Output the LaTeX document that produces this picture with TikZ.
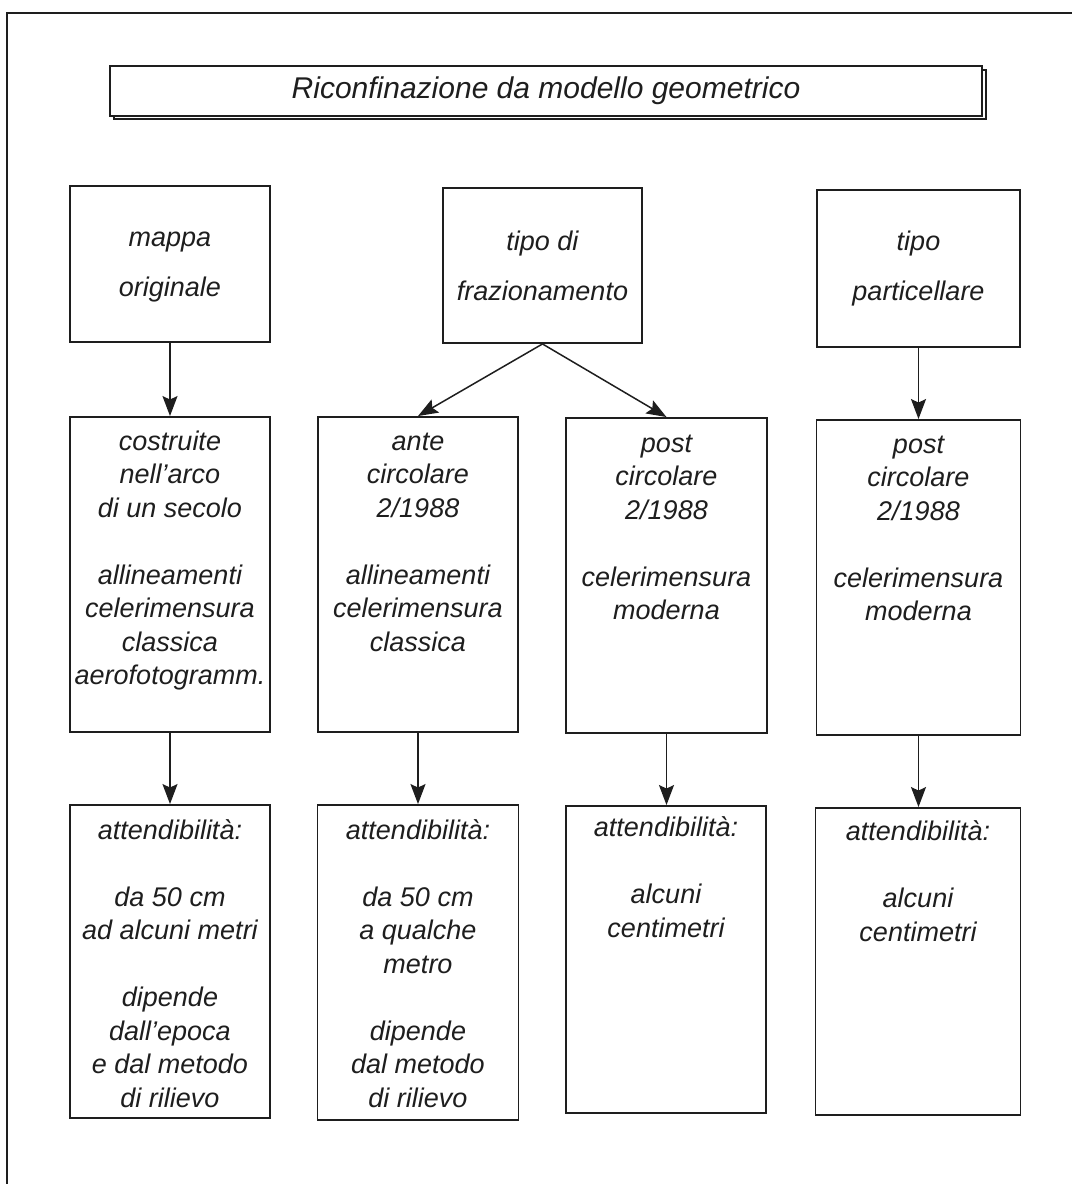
\documentclass[tikz,border=0pt]{standalone}
\usepackage{fontspec}
\setmainfont{Liberation Sans}
\usetikzlibrary{arrows.meta}
\definecolor{ink}{HTML}{1E1E1E}
\tikzset{
  x=1pt, y=-1pt,
  frameline/.style={draw=ink, line width=1.6pt},
  box/.style={draw=ink, line width=1.9pt, fill=white, inner sep=0pt},
  bodytext/.style={inner sep=0pt, align=center, text=ink,
    font=\itshape\fontsize{27}{33.5}\selectfont},
  headtext/.style={inner sep=0pt, align=center, text=ink,
    font=\itshape\fontsize{27}{50}\selectfont},
  link/.style={draw=ink, line width=1.5pt,
    -{Stealth[length=20pt, width=15pt, inset=3.5pt]}},
}
\begin{document}
\begin{tikzpicture}
\useasboundingbox (0,0) rectangle (1072,1184);

% page frame (top and left rules)
\draw[frameline] (7,1184) -- (7,13) -- (1072,13);

% title with offset outline
\draw[draw=ink, line width=1.5pt] (114,70) rectangle (986,119);
\node[box, line width=1.6pt, minimum width=872pt, minimum height=50pt] (title) at (546,91) {};
\node[inner sep=0pt, text=ink, font=\itshape\fontsize{30}{36}\selectfont] (titletext) at (title.center) {Riconfinazione da modello geometrico};

% first row
\node[box, minimum width=200pt, minimum height=156pt] (a1) at (170,264) {};
\node[headtext] (a1t) at ([yshift=-3pt]a1.center) {mappa\\originale};
\node[box, minimum width=199pt, minimum height=155pt] (a2) at (542.5,265.5) {};
\node[headtext] (a2t) at (a2.center) {tipo di\\frazionamento};
\node[box, minimum width=203pt, minimum height=157pt] (a3) at (918.5,268.5) {};
\node[headtext] (a3t) at (a3.center) {tipo\\particellare};

% second row
\node[box, minimum width=200pt, minimum height=315pt] (b1) at (170,574.5) {};
\node[bodytext, anchor=north] (b1t) at ([yshift=-10.5pt]b1.north)
  {\strut costruite\\nell'arco\\di un secolo\\[33.5pt]allineamenti\\celerimensura\\classica\\aerofotogramm.};
\node[box, minimum width=200pt, minimum height=315pt] (b2) at (418,574.5) {};
\node[bodytext, anchor=north] (b2t) at ([yshift=-10.5pt]b2.north)
  {\strut ante\\circolare\\2/1988\\[33.5pt]allineamenti\\celerimensura\\classica};
\node[box, minimum width=201pt, minimum height=315pt] (b3) at (666.5,575.5) {};
\node[bodytext, anchor=north] (b3t) at ([yshift=-11.5pt]b3.north)
  {\strut post\\circolare\\2/1988\\[33.5pt]celerimensura\\moderna};
\node[box, minimum width=204pt, minimum height=315pt] (b4) at (918.5,577.5) {};
\node[bodytext, anchor=north] (b4t) at ([yshift=-10.5pt]b4.north)
  {\strut post\\circolare\\2/1988\\[33.5pt]celerimensura\\moderna};

% third row
\node[box, minimum width=200pt, minimum height=313pt] (c1) at (170,961.5) {};
\node[bodytext, anchor=north] (c1t) at ([yshift=-11.5pt]c1.north)
  {\strut attendibilit\`a:\\[33.5pt]da 50 cm\\ad alcuni metri\\[33.5pt]dipende\\dall'epoca\\e dal metodo\\di rilievo};
\node[box, minimum width=201pt, minimum height=315pt] (c2) at (418,962.5) {};
\node[bodytext, anchor=north] (c2t) at ([yshift=-11.5pt]c2.north)
  {\strut attendibilit\`a:\\[33.5pt]da 50 cm\\a qualche\\metro\\[33.5pt]dipende\\dal metodo\\di rilievo};
\node[box, minimum width=200pt, minimum height=307pt] (c3) at (666,959.5) {};
\node[bodytext, anchor=north] (c3t) at ([yshift=-8pt]c3.north)
  {\strut attendibilit\`a:\\[33.5pt]alcuni\\centimetri};
\node[box, minimum width=205pt, minimum height=307pt] (c4) at (918,961.5) {};
\node[bodytext, anchor=north] (c4t) at ([yshift=-10pt]c4.north)
  {\strut attendibilit\`a:\\[33.5pt]alcuni\\centimetri};

% connectors
\draw[link] (a1.south) -- (b1.north);
\draw[link] (a2.south) -- (b2.north);
\draw[link] (a2.south) -- (b3.north);
\draw[link] (a3.south -| b4.north) -- (b4.north);
\draw[link] (b1.south) -- (b1.south |- c1.north);
\draw[link] (b2.south) -- (b2.south |- c2.north);
\draw[link] (b3.south) -- (b3.south |- c3.north);
\draw[link] (b4.south) -- (b4.south |- c4.north);
\end{tikzpicture}
\end{document}
